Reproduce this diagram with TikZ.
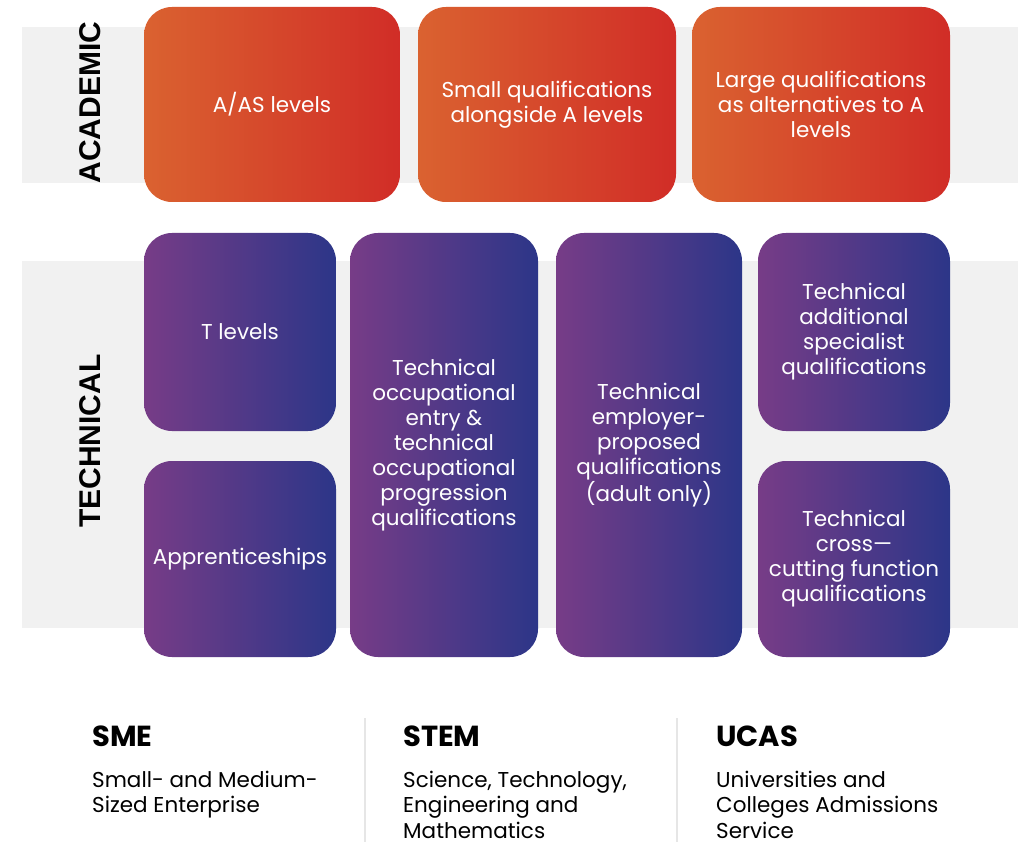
\documentclass[tikz,border=0pt]{standalone}
\usepackage{fontspec}
\setmainfont{Poppins}
\newfontfamily\labelfont{Liberation Sans}
\definecolor{orgA}{HTML}{DA6230}
\definecolor{orgB}{HTML}{D12D27}
\definecolor{purA}{HTML}{773C87}
\definecolor{purB}{HTML}{2C3688}
\definecolor{bandgray}{HTML}{F1F1F1}
\definecolor{divgray}{HTML}{E6E6E6}
\tikzset{
  qbox/.style={rounded corners=28pt, inner sep=0pt, outer sep=0pt, anchor=north west,
    align=center, text=white, font=\fontsize{21.5}{25}\selectfont},
  acadbox/.style={qbox, left color=orgA, right color=orgB},
  techbox/.style={qbox, left color=purA, right color=purB},
  sidelabel/.style={rotate=90, inner sep=0pt, font=\labelfont\bfseries\fontsize{30}{30}\selectfont},
  abbr/.style={anchor=base west, inner sep=0pt, font=\bfseries\fontsize{29}{29}\selectfont},
  expl/.style={anchor=base west, inner sep=0pt, align=left, font=\fontsize{21.5}{25.5}\selectfont},
}
\begin{document}
\begin{tikzpicture}[x=1pt,y=-1pt]
\useasboundingbox[fill=white] (0,0) rectangle (1023,842);
% bands
\fill[bandgray] (22,27) rectangle (1018,183);
\fill[bandgray] (22,261) rectangle (1018,628);
% side labels
\node[sidelabel] (academic) at (90,102.5) {ACADEMIC};
\node[sidelabel] (technical) at (90,441) {TECHNICAL};
% academic boxes
\node[acadbox, minimum width=256pt, minimum height=195pt] (aas) at (144,7) {A/AS levels};
\node[acadbox, minimum width=258pt, minimum height=195pt] (small) at (418,7) {Small qualifications\\alongside A levels};
\node[acadbox, minimum width=258pt, minimum height=195pt] (large) at (692,7) {Large qualifications\\as alternatives to A\\levels};
% technical boxes
\node[techbox, minimum width=192pt, minimum height=198pt] (tlev) at (144,233) {T levels};
\node[techbox, minimum width=192pt, minimum height=196pt] (appr) at (144,461) {Apprenticeships};
\node[techbox, minimum width=188pt, minimum height=424pt] (occ) at (350,233) {Technical\\occupational\\entry \&\\technical\\occupational\\progression\\qualifications};
\node[techbox, minimum width=186pt, minimum height=424pt] (empl) at (556,233) {Technical\\employer-\\proposed\\qualifications\\(adult only)};
\node[techbox, minimum width=192pt, minimum height=198pt] (addl) at (758,233) {Technical\\additional\\specialist\\qualifications};
\node[techbox, minimum width=192pt, minimum height=196pt] (cross) at (758,461) {Technical\\cross—\\cutting function\\qualifications};
% dividers
\draw[divgray, line width=1.2pt] (365,718) -- (365,842);
\draw[divgray, line width=1.2pt] (677,718) -- (677,842);
% glossary (expl nodes anchored at the baseline of their last line)
\node[abbr] (sme) at (92,746) {SME};
\node[expl] (smetxt) at (92,812.5) {Small- and Medium-\\Sized Enterprise};
\node[abbr] (stem) at (403,746) {STEM};
\node[expl] (stemtxt) at (403,838) {Science, Technology,\\Engineering and\\Mathematics};
\node[abbr] (ucas) at (716,746) {UCAS};
\node[expl] (ucastxt) at (716,838) {Universities and\\Colleges Admissions\\Service};
\end{tikzpicture}
\end{document}
